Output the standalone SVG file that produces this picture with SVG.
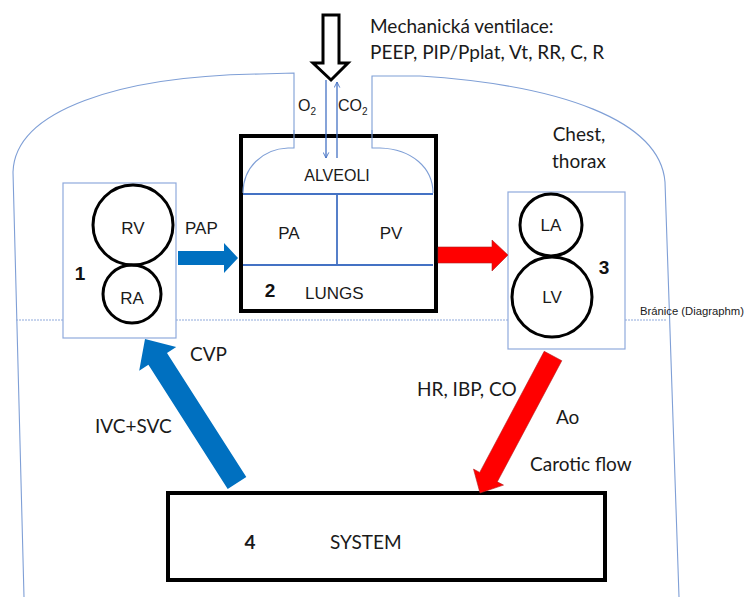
<svg xmlns="http://www.w3.org/2000/svg" width="749" height="597" viewBox="0 0 749 597">
<defs>
<style>
.outline{fill:none;stroke:#7f9fd6;stroke-width:1.1}
.dia{fill:none;stroke:#8faadc;stroke-width:1.2;stroke-dasharray:2 1}
.inner{fill:none;stroke:#4472c4;stroke-width:1.8}
.hbox{fill:#fff;stroke:#8faadc;stroke-width:1.2}
.heavy{fill:#fff;stroke:#000;stroke-width:4}
.circ{fill:none;stroke:#000;stroke-width:3}
.ar{font-family:"Liberation Sans",Arial,sans-serif;fill:#1a1a1a}
.ca{font-family:Lato,"Open Sans",sans-serif;fill:#1a1a1a;font-size:19px}
.num{font-family:"Liberation Sans",Arial,sans-serif;font-weight:bold;font-size:19px;fill:#111;text-anchor:middle}
.gas{fill:none;stroke:#4472c4;stroke-width:1.3}
</style>
<marker id="ah" viewBox="0 0 10 10" refX="9" refY="5" markerWidth="7" markerHeight="7" orient="auto" markerUnits="userSpaceOnUse">
<path d="M1,1 L9,5 L1,9" fill="none" stroke="#4472c4" stroke-width="1.3"/>
</marker>
</defs>
<rect width="749" height="597" fill="#fff"/>

<g id="chest-outline">
<path class="outline" d="M24 597 L13 172 C15 110 120 76 260 74 L294 73 L294 148 L288 148 C262 149 243 168 243 193"/>
<path class="outline" d="M679 597 L665 182 C660 120 560 85 420 76 L372 76 L372 148 L380 148 C412 149 433 168 433 193"/>
<path class="dia" d="M16 320 H63 M176 320 H508 M625 320 H667"/>
<text class="ar" x="640" y="315" font-size="11.3" textLength="104" lengthAdjust="spacingAndGlyphs">Bránice (Diagraphm)</text>
<text class="ca" x="579" y="141" text-anchor="middle">Chest,</text>
<text class="ca" x="579" y="168" text-anchor="middle">thorax</text>
</g>

<g id="ventilator">
<polygon points="323,15 339,15 339,63 348,63 331,80 313,63 323,63" fill="#fff" stroke="#000" stroke-width="3" stroke-linejoin="miter"/>
<text class="ca" x="370" y="33">Mechanická ventilace:</text>
<text class="ca" x="370" y="59">PEEP, PIP/Pplat, Vt, RR, C, R</text>
</g>

<g id="node2-lungs">
<rect class="heavy" x="241" y="136" width="195" height="175"/>
<path class="outline" d="M294 130 L294 148 L288 148 C262 149 243 168 243 193"/>
<path class="outline" d="M372 130 L372 148 L380 148 C412 149 433 168 433 193"/>
<path class="inner" d="M243 194 H433 M243 265 H433 M337 194 V265"/>
<text class="ar" x="337" y="181" font-size="16" text-anchor="middle">ALVEOLI</text>
<text class="ar" x="289" y="239" font-size="17" text-anchor="middle">PA</text>
<text class="ar" x="391" y="239" font-size="17" text-anchor="middle">PV</text>
<text class="num" x="270" y="297">2</text>
<text class="ar" x="305" y="299" font-size="17">LUNGS</text>
</g>

<g id="node1-right-heart">
<rect class="hbox" x="63" y="183" width="113" height="155"/>
<circle class="circ" cx="133" cy="225" r="40"/>
<circle class="circ" cx="132" cy="294" r="29"/>
<text class="ar" x="133" y="234" font-size="17" text-anchor="middle">RV</text>
<text class="ar" x="132" y="304" font-size="17" text-anchor="middle">RA</text>
<text class="num" x="80" y="280">1</text>
</g>

<g id="node3-left-heart">
<rect class="hbox" x="508" y="192" width="117" height="157"/>
<circle class="circ" cx="551" cy="225" r="31"/>
<circle class="circ" cx="552" cy="297" r="40"/>
<text class="ar" x="551" y="231" font-size="17" text-anchor="middle">LA</text>
<text class="ar" x="552" y="303" font-size="17" text-anchor="middle">LV</text>
<text class="num" x="604" y="274">3</text>
</g>

<g id="node4-system">
<rect class="heavy" x="168" y="493" width="437" height="87"/>
<text class="ca" x="250" y="549" text-anchor="middle" font-weight="bold">4</text>
<text class="ca" x="330" y="549">SYSTEM</text>
</g>

<g id="connectors">
<line class="gas" x1="326" y1="80" x2="326" y2="158" marker-end="url(#ah)"/>
<line class="gas" x1="337" y1="158" x2="337" y2="82" marker-end="url(#ah)"/>
<text class="ar" x="298" y="111" font-size="16">O<tspan font-size="10" dy="4">2</tspan></text>
<text class="ar" x="338" y="111" font-size="16">CO<tspan font-size="10" dy="4">2</tspan></text>

<polygon points="178,251 224,251 224,243 238,258 224,273 224,265 178,265" fill="#0070c0"/>
<text class="ar" x="185" y="234" font-size="17">PAP</text>

<polygon points="438,247 492,247 492,240 508,255 492,271 492,263 438,263" fill="#ff0000" stroke="#b02020" stroke-width="0.6"/>

<polygon points="544.2,351.3 561.8,360.7 497.3,481.8 503.5,485.1 480,493 473.5,469.1 479.7,472.4" fill="#ff0000" stroke="#b02020" stroke-width="0.6"/>
<text class="ca" x="417" y="396">HR, IBP, CO</text>
<text class="ca" x="556" y="424">Ao</text>
<text class="ca" x="530" y="471">Carotic flow</text>

<polygon points="227.7,488.9 246.3,477.1 167,353 176.2,347.1 145,339 139.2,370.7 148.4,364.8" fill="#0070c0"/>
<text class="ca" x="190" y="361">CVP</text>
<text class="ca" x="95" y="433">IVC+SVC</text>
</g>
</svg>
